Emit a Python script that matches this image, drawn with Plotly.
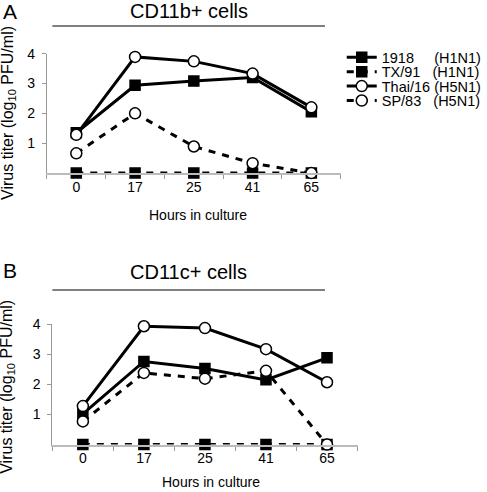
import plotly.graph_objects as go

# ---- data ----
hours = ["0", "17", "25", "41", "65"]

a_1918 = [1.35, 2.94, 3.08, 3.20, 2.05]
a_tx91 = [0.0, 0.0, 0.0, 0.0, 0.0]
a_thai16 = [1.28, 3.89, 3.74, 3.33, 2.20]
a_sp83 = [0.66, 2.00, 0.89, 0.33, 0.0]

b_1918 = [1.02, 2.76, 2.53, 2.15, 2.88]
b_tx91 = [0.0, 0.0, 0.0, 0.0, 0.0]
b_thai16 = [1.28, 3.93, 3.87, 3.17, 2.07]
b_sp83 = [0.77, 2.38, 2.19, 2.45, 0.0]

y_ticks = [1, 2, 3, 4]
strain_names = ["1918", "TX/91", "Thai/16", "SP/83"]
subtypes = ["(H1N1)", "(H1N1)", "(H5N1)", "(H5N1)"]
name_pad = [5, 3, 1, 3]

panel_titles = ["CD11b+ cells", "CD11c+ cells"]
panel_letters = ["A", "B"]
x_title = "Hours in culture"
y_title = "Virus titer (log<sub>10</sub> PFU/ml)"

W, H = 487, 492
FONT = "Liberation Sans, Arial, sans-serif"
Y_OFF, Y_SCALE = 7.5, 0.988


def px(x):
    return x / W


def py(y):
    return 1 - ((y - Y_OFF) / Y_SCALE) / H


NB = "\u00a0"
labels = [n + NB * p + s for n, p, s in zip(strain_names, name_pad, subtypes)]

styles = {
    "1918": dict(symbol="square", fill="black", dash="solid", legend="legend"),
    "TX/91": dict(symbol="square", fill="black", dash="7px,7px", legend="legend2"),
    "Thai/16": dict(symbol="circle", fill="white", dash="solid", legend="legend3"),
    "SP/83": dict(symbol="circle", fill="white", dash="7px,7px", legend="legend4"),
}

panel_data = [
    {"1918": a_1918, "TX/91": a_tx91, "Thai/16": a_thai16, "SP/83": a_sp83},
    {"1918": b_1918, "TX/91": b_tx91, "Thai/16": b_thai16, "SP/83": b_sp83},
]

draw_order = ["TX/91", "1918", "SP/83", "Thai/16"]

fig = go.Figure()
for pi, data in enumerate(panel_data):
    xa = "x" if pi == 0 else "x2"
    ya = "y" if pi == 0 else "y2"
    for name in draw_order:
        st = styles[name]
        idx = strain_names.index(name)
        fig.add_trace(go.Scatter(
            x=hours, y=data[name], xaxis=xa, yaxis=ya,
            mode="lines+markers", name=labels[idx],
            line=dict(color="black", width=3, dash=st["dash"]),
            marker=dict(symbol=st["symbol"], size=11 if st["symbol"] == "circle" else 10,
                        color=st["fill"], line=dict(color="black", width=1.5)),
            cliponaxis=False,
            showlegend=(pi == 0),
            legend=st["legend"],
        ))

axis_common = dict(showgrid=False, zeroline=False, showline=True, ticks="outside",
                   ticklen=4, tickcolor="#999999", tickfont=dict(size=14, color="black", family=FONT),
                   fixedrange=True)
xcommon = dict(axis_common, type="category", range=[-0.5, 4.5], tickson="boundaries",
               linecolor="#bbbbbb", linewidth=2)
ycommon = dict(axis_common, range=[0, 4], tickvals=y_ticks, linecolor="#999999", linewidth=1,
               ticklabelstandoff=4)

legend_rows = [57, 71.5, 86, 100.5]
legend_layout = {}
for i, ly in enumerate(legend_rows):
    key = "legend" if i == 0 else f"legend{i + 1}"
    legend_layout[key] = dict(x=px(346), y=py(ly), xanchor="left", yanchor="middle",
                              bgcolor="rgba(0,0,0,0)", borderwidth=0, itemwidth=30,
                              font=dict(size=14.5, color="black", family=FONT))

annotations = [
    dict(text=panel_letters[0], x=px(10.5), y=py(11), showarrow=False, font=dict(size=21)),
    dict(text=panel_letters[1], x=px(10.5), y=py(271), showarrow=False, font=dict(size=21)),
    dict(text=panel_titles[0], x=px(191), y=py(11), showarrow=False, font=dict(size=20)),
    dict(text=panel_titles[1], x=px(191), y=py(273), showarrow=False, font=dict(size=20)),
    dict(text=x_title, x=px(200), y=py(215), showarrow=False, font=dict(size=14)),
    dict(text=x_title, x=px(214), y=py(484), showarrow=False, font=dict(size=14)),
    dict(text=y_title, x=px(8), y=py(113), showarrow=False, textangle=-90, font=dict(size=16)),
    dict(text=y_title, x=px(8), y=py(388), showarrow=False, textangle=-90, font=dict(size=16)),
]
for a in annotations:
    a.update(xref="paper", yref="paper", xanchor="center", yanchor="middle")
    a["font"].update(color="black", family=FONT)

shapes = [
    dict(type="line", xref="paper", yref="paper", x0=px(53), x1=px(329), y0=py(25.7), y1=py(25.7),
         line=dict(color="#555555", width=1.5)),
    dict(type="line", xref="paper", yref="paper", x0=px(53), x1=px(329), y0=py(290.7), y1=py(290.7),
         line=dict(color="#555555", width=1.5)),
]

fig.update_layout(
    width=W, height=H, margin=dict(l=0, r=0, t=0, b=0),
    paper_bgcolor="white", plot_bgcolor="white",
    font=dict(family=FONT, color="black", size=14),
    xaxis=dict(xcommon, domain=[px(47.5), px(345)], anchor="y"),
    yaxis=dict(ycommon, domain=[py(173.3), py(53.3)], anchor="x"),
    xaxis2=dict(xcommon, domain=[px(53), px(362)], anchor="y2"),
    yaxis2=dict(ycommon, domain=[py(446), py(325)], anchor="x2"),
    annotations=annotations, shapes=shapes,
    **legend_layout,
)

pin_js = (
    "document.body.style.margin='0';"
    "document.body.style.overflow='hidden';"
    "var gd=document.getElementById('{plot_id}');"
    "gd.style.position='fixed';gd.style.left='0px';gd.style.top='0px';"
)
fig.write_html("out.html", post_script=pin_js, config={"displayModeBar": False})
